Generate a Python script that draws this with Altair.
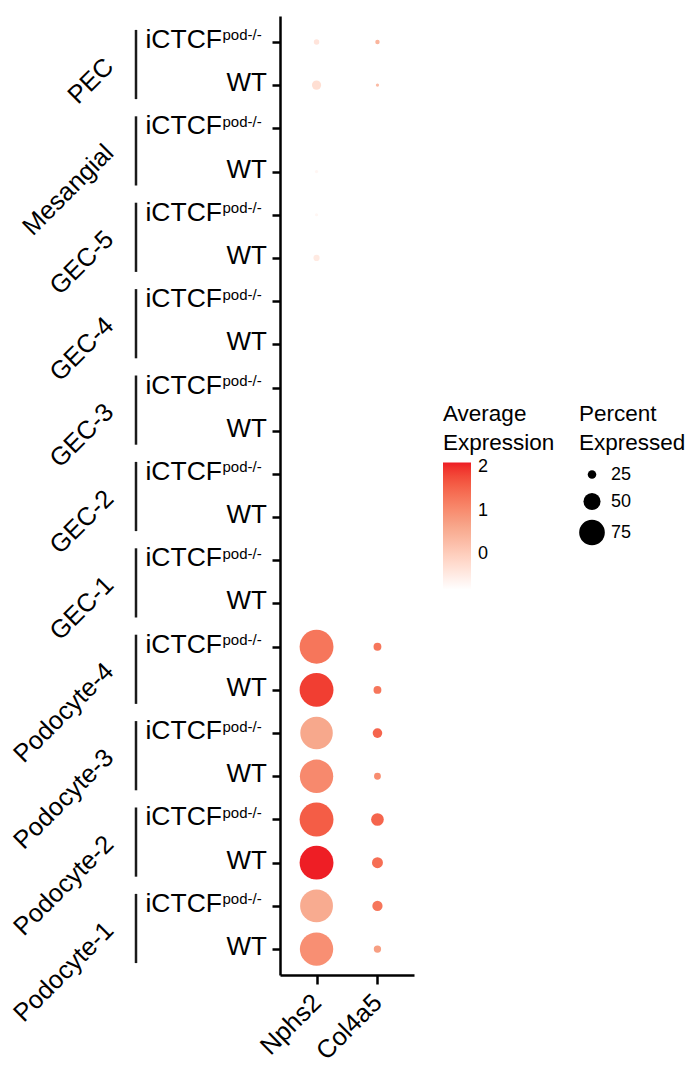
import altair as alt
import pandas as pd

cell_types = ["PEC", "Mesangial", "GEC-5", "GEC-4", "GEC-3", "GEC-2", "GEC-1",
              "Podocyte-4", "Podocyte-3", "Podocyte-2", "Podocyte-1"]
conditions = ["iCTCF", "WT"]
genes = ["Nphs2", "Col4a5"]
sup_text = "pod-/-"

# values per (cell type, condition), in order: iCTCF, WT for each cell type
pct_nphs2 = [16, 27, 0, 9.5, 9, 18, 0, 0, 0, 0, 0, 0, 0, 0,
             99, 99, 95, 97.5, 99, 99, 96, 97.5]
avg_nphs2 = [-0.37, -0.28, -0.8, -0.66, -0.66, -0.46, -0.8, -0.8, -0.8, -0.8, -0.8, -0.8, -0.8, -0.8,
             1.3, 1.9, 0.62, 1.05, 1.6, 2.1, 0.57, 0.97]
pct_col4a5 = [13, 9.5, 0, 0, 0, 0, 0, 0, 0, 0, 0, 0, 0, 0,
              23, 23, 28, 20, 37, 32, 30, 21.5]
avg_col4a5 = [0.4, 0.3, -0.8, -0.8, -0.8, -0.8, -0.8, -0.8, -0.8, -0.8, -0.8, -0.8, -0.8, -0.8,
              1.3, 1.3, 1.5, 1.0, 1.5, 1.4, 1.3, 0.75]

color_domain = [-0.81, 0.65, 2.11]
color_range = ["#FFFFFF", "#F7A68A", "#EE1C24"]

rows = []
labels = []
groups = []
row_order = []
for ci, ct in enumerate(cell_types):
    groups.append({"cell": ct, "top": f"{ct}|iCTCF", "bottom": f"{ct}|WT"})
    for k, cond in enumerate(conditions):
        i = ci * 2 + k
        r = f"{ct}|{cond}"
        row_order.append(r)
        labels.append({"row": r, "cond": cond, "main": cond, "sup": sup_text if cond == "iCTCF" else ""})
        rows.append({"row": r, "gene": "Nphs2", "pct": pct_nphs2[i], "avg": avg_nphs2[i]})
        rows.append({"row": r, "gene": "Col4a5", "pct": pct_col4a5[i], "avg": avg_col4a5[i]})

df = pd.DataFrame(rows)
lab_df = pd.DataFrame(labels)
grp_df = pd.DataFrame(groups)

FONT = "Liberation Sans"
yscale = alt.Scale(type="point", domain=row_order, padding=0.6)

dots = alt.Chart(df).mark_circle(opacity=1, strokeWidth=0).encode(
    x=alt.X("gene:N", scale=alt.Scale(type="point", domain=genes, padding=0.6), title=None,
            axis=alt.Axis(labelAngle=315, labelAlign="right", labelBaseline="middle",
                          labelFontSize=25.5, labelPadding=14, tickSize=9)),
    y=alt.Y("row:N", scale=yscale, title=None),
    size=alt.Size("pct:Q",
                  scale=alt.Scale(type="pow", exponent=2, domain=[0, 100], range=[0, 1170]),
                  title=["Percent", "Expressed"],
                  legend=alt.Legend(orient="none", legendX=299, legendY=387, values=[25, 50, 75],
                                    symbolFillColor="black", symbolStrokeWidth=0, symbolType="circle",
                                    symbolOpacity=1, labelFontSize=18, titleFontSize=22.5,
                                    titleFontWeight="normal", titleLineHeight=29, titlePadding=11,
                                    labelOffset=6, rowPadding=9)),
    color=alt.Color("avg:Q",
                    scale=alt.Scale(domain=color_domain, range=color_range,
                                    interpolate="lab", nice=False, zero=False),
                    title=["Average", "Expression"],
                    legend=alt.Legend(orient="none", legendX=163, legendY=387, values=[0, 1, 2],
                                      gradientLength=127, gradientThickness=28, gradientStrokeWidth=0,
                                      labelFontSize=18, titleFontSize=22.5, titleFontWeight="normal",
                                      titleLineHeight=29, titlePadding=8, labelOffset=7,
                                      direction="vertical")),
)

wt_text = alt.Chart(lab_df).transform_filter(alt.datum.cond == "WT").mark_text(
    align="right", baseline="alphabetic", dy=6, fontSize=26, font=FONT, color="black"
).encode(x=alt.value(-13), y=alt.Y("row:N", scale=yscale, title=None), text="main:N")

ko_text = alt.Chart(lab_df).transform_filter(alt.datum.cond == "iCTCF").mark_text(
    align="right", baseline="alphabetic", dy=6, fontSize=26.5, font=FONT, color="black"
).encode(x=alt.value(-58), y=alt.Y("row:N", scale=yscale, title=None), text="main:N")

sup = alt.Chart(lab_df).transform_filter(alt.datum.cond == "iCTCF").mark_text(
    align="left", baseline="alphabetic", dy=-1.5, fontSize=15, font=FONT, color="black"
).encode(x=alt.value(-57.5), y=alt.Y("row:N", scale=yscale, title=None), text="sup:N")

bars = alt.Chart(grp_df).mark_rule(strokeWidth=2.5, color="#1a1a1a", yOffset=-12, y2Offset=14).encode(
    x=alt.value(-144), y=alt.Y("top:N", scale=yscale, title=None), y2="bottom:N")

grp_text = alt.Chart(grp_df).mark_text(
    align="right", baseline="alphabetic", angle=315, fontSize=25.5, font=FONT, color="black", yOffset=-17
).encode(x=alt.value(-165), y=alt.Y("bottom:N", scale=yscale, title=None), text="cell:N")

chart = alt.layer(dots, bars, grp_text, wt_text, ko_text, sup).properties(
    width=134, height=959,
    padding={"left": 272, "top": 8, "right": 272, "bottom": 92},
    autosize=alt.AutoSizeParams(type="none"),
    background="white",
).configure_view(stroke=None).configure_axis(
    domainColor="black", domainWidth=2.5, tickColor="black", tickWidth=2.5,
    labelColor="black", grid=False, labelFont=FONT,
).configure_axisY(labels=False, tickSize=8).configure_legend(
    labelFont=FONT, titleFont=FONT, titleColor="black", labelColor="black"
).configure_text(font=FONT)

chart.save("out.html", embed_options={"renderer": "svg", "actions": False})
